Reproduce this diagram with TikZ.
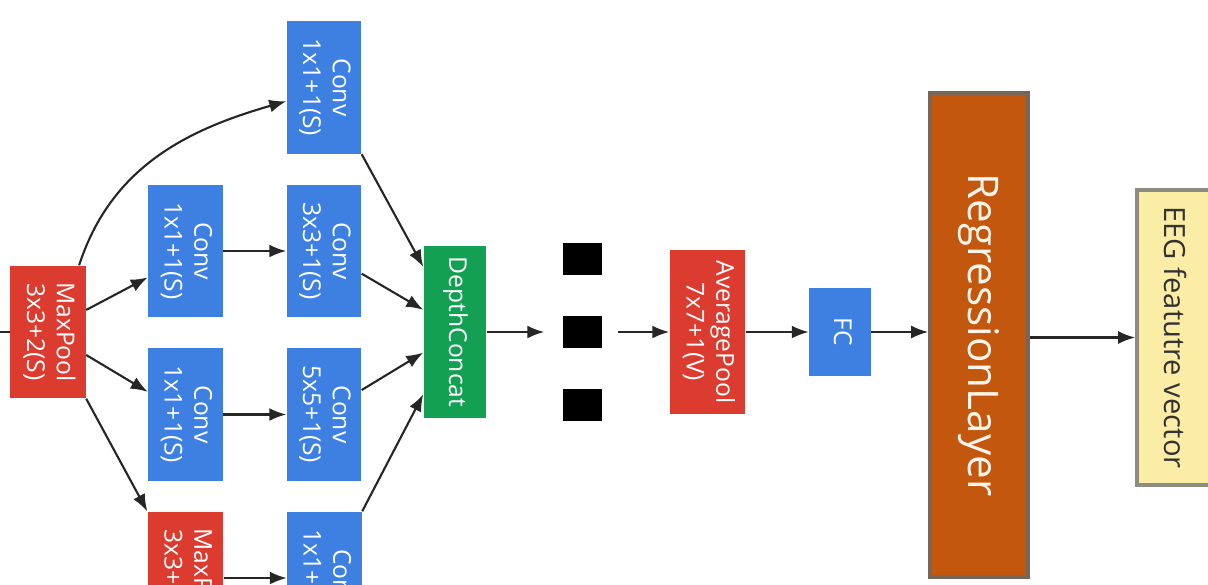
\documentclass[tikz,border=0pt]{standalone}
\usepackage{fontspec}
\setmainfont{Open Sans}
\usepackage{graphicx}
\usetikzlibrary{shapes,arrows,arrows.meta,positioning}
\usepackage{xcolor}
\definecolor{convblue}{HTML}{3D80E2}
\definecolor{poolred}{HTML}{DC3B2F}
\definecolor{catgreen}{HTML}{14A052}
\definecolor{regorange}{HTML}{C4570E}
\definecolor{regedge}{HTML}{7A6655}
\definecolor{outyellow}{HTML}{FBEDA6}
\definecolor{outedge}{HTML}{8C8C80}
\newcommand{\vtext}[1]{\rotatebox{-90}{\begin{tabular}{@{}c@{}}#1\end{tabular}}}

\begin{document}
\begin{tikzpicture}[
    x=0.01cm, y=-0.01cm,
    box/.style={rectangle, inner sep=0pt, text=white, font=\fontsize{7}{8.5}\selectfont},
    conv/.style={box, fill=convblue, minimum width=0.74cm, minimum height=1.32cm},
    pool/.style={box, fill=poolred, minimum width=0.75cm, minimum height=1.32cm},
    concat/.style={box, fill=catgreen, minimum width=0.62cm, minimum height=1.72cm},
    dotbox/.style={rectangle, fill=black, minimum width=0.39cm, minimum height=0.32cm, inner sep=0pt},
    regbox/.style={rectangle, fill=regorange, draw=regedge, line width=1pt, minimum width=0.98cm, minimum height=4.84cm, text=orange!8, font=\fontsize{12}{14}\selectfont},
    outbox/.style={rectangle, fill=outyellow, draw=outedge, line width=1pt, minimum width=0.78cm, minimum height=2.95cm, text=black!80, font=\fontsize{8.3}{10}\selectfont},
    line/.style={draw=black!85, line width=0.6pt, -{Latex[length=1.7mm, width=1.3mm]}}
  ]
    \useasboundingbox (0,0) rectangle (1208,584);
    \clip (0,0) rectangle (1208,584);

    % inception block
    \coordinate (in) at (0,332);
    \node [pool] (mpa) at (48,332) {\vtext{MaxPool\\3x3+2(S)}};
    \node [conv] (cvb) at (185.5,251) {\vtext{Conv\\1x1+1(S)}};
    \node [conv, below=0.3cm of cvb] (cvd) {\vtext{Conv\\1x1+1(S)}};
    \node [pool, below=0.3cm of cvd] (mpb) {\vtext{MaxPool\\3x3+1(S)}};
    \node [conv, right=0.63cm of cvb] (cvc) {\vtext{Conv\\3x3+1(S)}};
    \node [conv, right=0.63cm of cvd] (cve) {\vtext{Conv\\5x5+1(S)}};
    \node [conv, right=0.63cm of mpb] (cvf) {\vtext{Conv\\1x1+1(S)}};
    \node [conv, above=0.3cm of cvc] (cva) {\vtext{Conv\\1x1+1(S)}};
    \node [concat] (dcat) at (455,332) {\vtext{DepthConcat}};

    % repeated blocks
    \node [dotbox] (dotb) at (582.5,332) {};
    \node [dotbox, above=0.4cm of dotb] (dota) {};
    \node [dotbox, below=0.4cm of dotb] (dotc) {};

    % head
    \node [pool, minimum height=1.63cm] (avgp) at (707.5,332) {\vtext{AveragePool\\7x7+1(V)}};
    \node [conv, minimum width=0.61cm, minimum height=0.87cm, right=0.63cm of avgp] (fc) {\vtext{FC}};
    \node [regbox] (reg) at (979,335) {\rotatebox{-90}{RegressionLayer}};
    \node [outbox] (eeg) at (1176,337.5) {\rotatebox{-90}{EEG featutre vector}};

    \draw [draw=black!85, line width=0.6pt] (in) -- (mpa.west);
    \path [line] (mpa.65) to[out=72, in=196] (cva.200);
    \path [line] (mpa.30) -- (cvb.215);
    \path [line] (mpa.-31) -- (cvd.149);
    \path [line] (mpa.south east) -- (mpb.north west);
    \path [line] (cvb) -- (cvc);
    \path [line] (cvd) -- (cve);
    \path [line] (mpb) -- (cvf);
    \path [line] (cva.south east) -- (dcat.116);
    \path [line] (cvc.-31) -- (dcat.145);
    \path [line] (cve.33) -- (dcat.213);
    \path [line] (cvf.north east) -- (dcat.243);
    \path [line, shorten >=0.18cm] (dcat) -- (dotb);
    \path [line, shorten <=0.15cm] (dotb) -- (avgp);
    \path [line] (avgp) -- (fc);
    \path [line] (fc.east) -- (fc.east -| reg.west);
    \path [line] (reg.east |- eeg.west) -- (eeg.west);
\end{tikzpicture}
\end{document}
